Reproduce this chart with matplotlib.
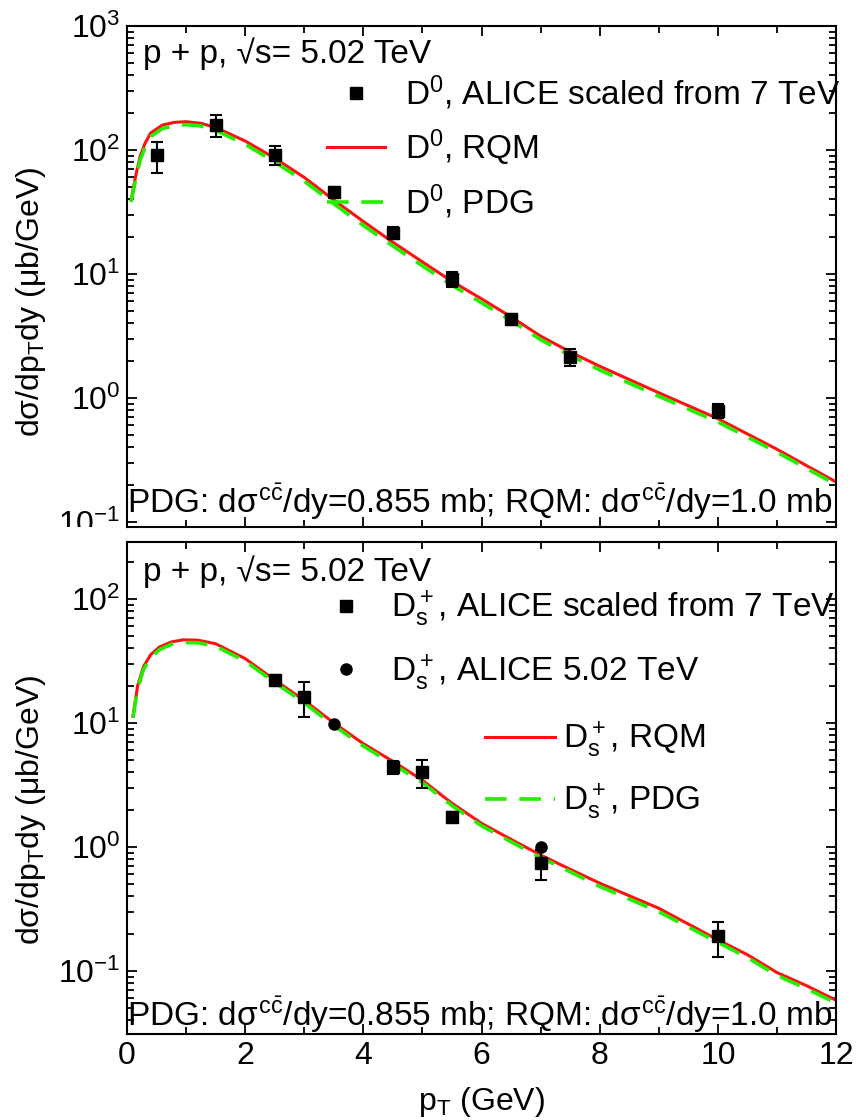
import numpy as np
import matplotlib
matplotlib.use("Agg")
import matplotlib.pyplot as plt
from matplotlib.patches import Rectangle
from matplotlib.lines import Line2D

plt.rcParams['font.family'] = ['Liberation Sans', 'DejaVu Sans']
plt.rcParams['mathtext.fontset'] = 'custom'
plt.rcParams['mathtext.rm'] = 'Liberation Sans'
plt.rcParams['mathtext.it'] = 'Liberation Sans'
plt.rcParams['mathtext.sf'] = 'Liberation Sans'

# ---- D0 panel data ----
pt_d0_data = [0.5, 1.5, 2.5, 3.5, 4.5, 5.5, 6.5, 7.5, 10.0]
d0_data    = [91, 160, 91, 46, 21.5, 9.1, 4.3, 2.15, 0.79]
d0_err     = [26, 32, 16, 4, 2.2, 1.2, 0.45, 0.35, 0.1]

pt_d0_curve = [0.07, 0.15, 0.22, 0.3, 0.4, 0.6, 0.8, 1.0, 1.25, 1.5, 2.0, 2.5, 3.0,
               3.5, 4.0, 4.5, 5.0, 5.5, 6.0, 6.5, 7.0, 7.5, 8.0, 9.0, 10.0, 11.0, 12.0]
d0_rqm = [39.5, 63, 88, 112, 137, 159, 167, 169, 164, 152, 118, 86, 60,
          39.5, 26.5, 18, 12.5, 8.7, 6.3, 4.5, 3.15, 2.35, 1.8, 1.1, 0.68, 0.385, 0.21]
d0_pdg = [38, 59, 82, 104, 128, 149, 157, 160, 156, 144, 111, 80, 56,
          36.8, 24.6, 16.8, 11.6, 8.1, 5.85, 4.2, 2.95, 2.2, 1.68, 1.03, 0.64, 0.365, 0.2]

# ---- Ds panel data ----
pt_ds_scaled = [2.5, 3.0, 4.5, 5.0, 5.5, 7.0, 10.0]
ds_scaled    = [22, 16.3, 4.4, 4.0, 1.75, 0.74, 0.19]
ds_scaled_err = [2.3, 5.2, 0.5, 1.0, 0.15, 0.2, 0.06]

pt_ds_502 = [3.5, 7.0]
ds_502    = [9.8, 1.0]

pt_ds_curve = [0.1, 0.18, 0.28, 0.4, 0.55, 0.75, 0.95, 1.2, 1.5, 2.0, 2.5, 3.0, 3.5, 4.0,
               4.5, 5.0, 5.5, 6.0, 6.5, 7.0, 7.5, 8.0, 9.0, 10.0, 10.5, 11.0, 11.5, 12.0]
ds_rqm = [11.3, 20, 28.5, 35.5, 41, 45, 46.8, 46.5, 43.5, 33, 22.2, 15.2, 10, 6.8,
          4.9, 3.45, 2.25, 1.55, 1.15, 0.86, 0.66, 0.51, 0.32, 0.178, 0.135, 0.097, 0.076, 0.058]
ds_pdg = [11, 19, 27, 33.5, 39, 43, 44.5, 44.3, 41.5, 31.5, 21.2, 14.5, 9.5, 6.5,
          4.65, 3.3, 2.15, 1.48, 1.1, 0.82, 0.63, 0.48, 0.3, 0.17, 0.128, 0.092, 0.072, 0.055]

note = r'PDG: d$\sigma^{c\bar{c}}$/dy=0.855 mb; RQM: d$\sigma^{c\bar{c}}$/dy=1.0 mb'
ylab = r'd$\sigma$/dp$_T$dy ($\mu$b/GeV)'
red = '#ff1010'
green = '#22ee00'
FS = 24

fig = plt.figure(figsize=(8.56, 11.2), dpi=100)
ax1 = fig.add_axes([0.1484, 0.5295, 0.8283, 0.4473])
ax2 = fig.add_axes([0.1484, 0.0768, 0.8283, 0.4393])

def style(ax, ylab_y):
    ax.set_yscale('log')
    ax.set_xlim(0, 12)
    ax.set_xticks(np.arange(0, 13, 2))
    ax.set_xticks(np.arange(1, 12, 2), minor=True)
    ax.tick_params(which='both', direction='in', top=True, right=True, labelsize=23, width=1.3)
    ax.tick_params(which='major', length=7, pad=5)
    ax.tick_params(which='minor', length=5)
    for s in ax.spines.values():
        s.set_linewidth(1.5)
    ax.set_ylabel(ylab, fontsize=23)
    ax.yaxis.set_label_coords(-0.111, ylab_y)

sq = dict(marker='s', color='k', ls='none', ms=8)

# top panel
style(ax1, 0.45)
ax1.set_ylim(0.091, 1000)
ax1.tick_params(labelbottom=False)
ax1.errorbar(pt_d0_data, d0_data, yerr=d0_err, fmt='s', color='k', ms=8,
             capsize=4, elinewidth=1.5, capthick=1.5, zorder=3)
ax1.plot(pt_d0_curve, d0_rqm, '-', color=red, lw=2.2)
ax1.plot(pt_d0_curve, d0_pdg, '--', color=green, lw=2.6, dashes=(6, 3.5))
ax1.text(0.022, 0.945, 'p + p, √s= 5.02 TeV', transform=ax1.transAxes, fontsize=FS, va='center')
ax1.text(0.0, 0.05, note, transform=ax1.transAxes, fontsize=FS, va='center')
h1 = [Line2D([], [], **sq),
      Line2D([], [], color=red, lw=2.2),
      Line2D([], [], color=green, lw=2.6, ls='--', dashes=(6, 3.5))]
l1 = [r'D$^0$, ALICE scaled from 7 TeV', r'D$^0$, RQM', r'D$^0$, PDG']
ax1.legend(h1, l1, loc='upper left', bbox_to_anchor=(0.282, 0.905), frameon=False, fontsize=FS,
           handlelength=1.75, handletextpad=0.6, labelspacing=0.45, borderpad=0, borderaxespad=0)

# bottom panel
style(ax2, 0.455)
ax2.set_ylim(0.031, 288)
ax2.errorbar(pt_ds_scaled, ds_scaled, yerr=ds_scaled_err, fmt='s', color='k', ms=8,
             capsize=4, elinewidth=1.5, capthick=1.5, zorder=3)
ax2.plot(pt_ds_502, ds_502, 'o', color='k', ms=8, zorder=3)
ax2.plot(pt_ds_curve, ds_rqm, '-', color=red, lw=2.2)
ax2.plot(pt_ds_curve, ds_pdg, '--', color=green, lw=2.6, dashes=(6, 3.5))
ax2.text(0.022, 0.94, 'p + p, √s= 5.02 TeV', transform=ax2.transAxes, fontsize=FS, va='center')
ax2.text(0.0, 0.04, note, transform=ax2.transAxes, fontsize=FS, va='center')
leg1 = ax2.legend([Line2D([], [], **sq), Line2D([], [], marker='o', color='k', ls='none', ms=8)],
                  [r'D$_s^+$, ALICE scaled from 7 TeV', r'D$_s^+$, ALICE 5.02 TeV'],
                  loc='upper left', bbox_to_anchor=(0.287, 0.905), frameon=False, fontsize=FS,
                  handlelength=0.9, handletextpad=0.9, labelspacing=0.7, borderpad=0, borderaxespad=0)
ax2.add_artist(leg1)
ax2.legend([Line2D([], [], color=red, lw=2.2),
            Line2D([], [], color=green, lw=2.6, ls='--', dashes=(6, 3.5))],
           [r'D$_s^+$, RQM', r'D$_s^+$, PDG'], loc='upper left', bbox_to_anchor=(0.505, 0.638),
           frameon=False, fontsize=FS, handlelength=2.1, handletextpad=0.25,
           labelspacing=0.65, borderpad=0, borderaxespad=0)
ax2.set_xlabel(r'p$_T$ (GeV)', fontsize=23, labelpad=10)

# hide lower half of the clipped 10^-1 label of the top panel
fig.add_artist(Rectangle((0, 0.5295 - 0.0134), 0.147, 0.0134, transform=fig.transFigure,
                         facecolor='white', edgecolor='none', zorder=5))

fig.savefig('out.png', dpi=100)
